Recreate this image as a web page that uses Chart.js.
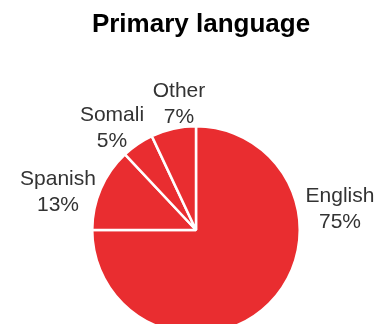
<!DOCTYPE html>
<html>
<head>
<meta charset="utf-8">
<script src="https://cdn.jsdelivr.net/npm/chart.js@4.4.1/dist/chart.umd.min.js"></script>
<style>
  html, body { margin: 0; padding: 0; background: #fff; overflow: hidden; }
  #wrap { position: relative; width: 389px; height: 340px; }
</style>
</head>
<body>
<div id="wrap"><canvas id="chart"></canvas></div>
<script>
// data
const titleText = 'Primary language';
const languages = ['English', 'Spanish', 'Somali', 'Other'];
const shares = [75, 13, 5, 7];

// where each label sits, relative to the pie centre (px)
const labelOffsets = [
  { dx: 144, dy: -28 },
  { dx: -138, dy: -45 },
  { dx: -84, dy: -109 },
  { dx: -17, dy: -133 }
];

const red = '#E92D30';

const labelPlugin = {
  id: 'pieLabels',
  afterDraw(chart) {
    const ctx = chart.ctx;
    ctx.save();
    // title
    ctx.fillStyle = '#000';
    ctx.font = 'bold 26px "Liberation Sans", Arial, sans-serif';
    ctx.textAlign = 'center';
    ctx.textBaseline = 'alphabetic';
    ctx.fillText(titleText, 201, 32);

    const arcs = chart.getDatasetMeta(0).data;
    const total = shares.reduce((a, b) => a + b, 0);
    ctx.fillStyle = '#333';
    ctx.font = '21px "Liberation Sans", Arial, sans-serif';
    arcs.forEach((arc, i) => {
      const x = arc.x + labelOffsets[i].dx;
      const y = arc.y + labelOffsets[i].dy;
      ctx.fillText(languages[i], x, y);
      ctx.fillText(Math.round(shares[i] / total * 100) + '%', x, y + 26);
    });
    ctx.restore();
  }
};

new Chart(document.getElementById('chart'), {
  type: 'pie',
  data: {
    labels: languages,
    datasets: [{
      data: shares,
      backgroundColor: red,
      borderColor: '#fff',
      borderWidth: 2.5,
      hoverOffset: 0,
      offset: 0
    }]
  },
  options: {
    responsive: true,
    maintainAspectRatio: false,
    animation: false,
    layout: { padding: { top: 125, bottom: 5, left: 91, right: 88 } },
    plugins: {
      legend: { display: false },
      tooltip: { enabled: false },
      title: { display: false }
    }
  },
  plugins: [labelPlugin]
});
</script>
</body>
</html>
